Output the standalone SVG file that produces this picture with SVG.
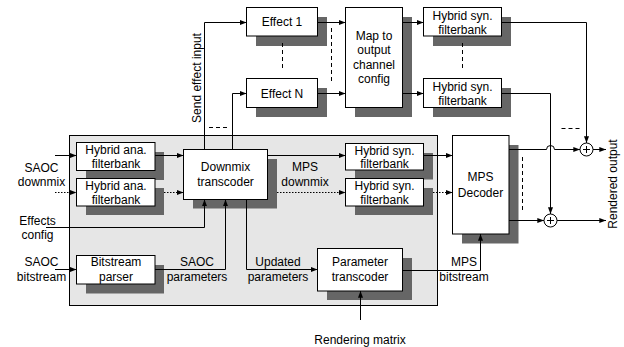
<svg xmlns="http://www.w3.org/2000/svg" width="624" height="347" viewBox="0 0 624 347">
  <defs>
    <marker id="arr" viewBox="0 0 8 6" refX="8" refY="3" markerWidth="7" markerHeight="5" markerUnits="userSpaceOnUse" orient="auto">
      <path d="M0,0 L8,3 L0,6 z" fill="#000"/>
    </marker>
  </defs>
  <style>
    text { font-family: "Liberation Sans", Arial, sans-serif; font-size: 12px; fill: #000; text-anchor: middle; }
    .box { fill: #fff; stroke: #000; stroke-width: 1; }
    .shadow { fill: #666; stroke: none; }
    .panel { fill: #e6e6e6; stroke: #000; stroke-width: 1; }
    .ln { fill: none; stroke: #000; stroke-width: 1; }
    .arrow { marker-end: url(#arr); }
    .dot { stroke-dasharray: 1.5 1.5; }
    .dash { fill: none; stroke: #000; stroke-width: 1; stroke-dasharray: 4 3; }
  </style>

  <!-- processing panel -->
  <rect class="panel" x="69.5" y="135.5" width="368" height="170"/>

  <!-- effects chain -->
  <g id="effect1">
    <rect class="shadow" x="256" y="17" width="71" height="29"/>
    <rect class="box" x="246.5" y="7.5" width="71" height="28.5"/>
    <text x="282" y="26">Effect 1</text>
  </g>
  <g id="effectN">
    <rect class="shadow" x="256" y="88" width="71" height="29"/>
    <rect class="box" x="246.5" y="78.5" width="71" height="29"/>
    <text x="282" y="97.5">Effect N</text>
  </g>
  <g id="map-output">
    <rect class="shadow" x="355" y="17" width="57" height="100"/>
    <rect class="box" x="345.5" y="7.5" width="57" height="100"/>
    <text x="374" y="39.5">Map to</text>
    <text x="374" y="54">output</text>
    <text x="374" y="68.5">channel</text>
    <text x="374" y="83">config</text>
  </g>
  <g id="hybrid-syn-fx1">
    <rect class="shadow" x="433" y="17" width="78" height="29"/>
    <rect class="box" x="423.5" y="7.5" width="78" height="28.5"/>
    <text x="462.5" y="19.5">Hybrid syn.</text>
    <text x="462.5" y="33.5">filterbank</text>
  </g>
  <g id="hybrid-syn-fxN">
    <rect class="shadow" x="433" y="88" width="78" height="29"/>
    <rect class="box" x="423.5" y="78.5" width="78" height="29"/>
    <text x="462.5" y="90.5">Hybrid syn.</text>
    <text x="462.5" y="104.5">filterbank</text>
  </g>

  <!-- SAOC transcoder blocks -->
  <g id="hybrid-ana-1">
    <rect class="shadow" x="86" y="152" width="78" height="28"/>
    <rect class="box" x="76.5" y="142.5" width="78.5" height="28"/>
    <text x="116" y="154">Hybrid ana.</text>
    <text x="116" y="168">filterbank</text>
  </g>
  <g id="hybrid-ana-2">
    <rect class="shadow" x="86" y="188" width="78" height="27"/>
    <rect class="box" x="76.5" y="178.5" width="78.5" height="27.5"/>
    <text x="116" y="190">Hybrid ana.</text>
    <text x="116" y="204">filterbank</text>
  </g>
  <g id="bitstream-parser">
    <rect class="shadow" x="86" y="265" width="78" height="28.5"/>
    <rect class="box" x="76.5" y="255.5" width="78.5" height="28.5"/>
    <text x="116" y="266">Bitstream</text>
    <text x="116" y="281">parser</text>
  </g>
  <g id="downmix-transcoder">
    <rect class="shadow" x="193" y="159" width="84" height="49.5"/>
    <rect class="box" x="183.5" y="149.5" width="84" height="50"/>
    <text x="225.5" y="171">Downmix</text>
    <text x="225.5" y="186">transcoder</text>
  </g>
  <g id="hybrid-syn-1">
    <rect class="shadow" x="355" y="153" width="78" height="26.5"/>
    <rect class="box" x="345.5" y="143.5" width="78" height="26.5"/>
    <text x="384.5" y="154.5">Hybrid syn.</text>
    <text x="384.5" y="168">filterbank</text>
  </g>
  <g id="hybrid-syn-2">
    <rect class="shadow" x="355" y="188" width="78" height="27"/>
    <rect class="box" x="345.5" y="178.5" width="78" height="27.5"/>
    <text x="384.5" y="190">Hybrid syn.</text>
    <text x="384.5" y="204">filterbank</text>
  </g>
  <g id="parameter-transcoder">
    <rect class="shadow" x="327" y="258" width="85" height="42"/>
    <rect class="box" x="317.5" y="248.5" width="85" height="42.5"/>
    <text x="360" y="266">Parameter</text>
    <text x="360" y="281">transcoder</text>
  </g>
  <g id="mps-decoder">
    <rect class="shadow" x="462" y="145" width="56.5" height="98.5"/>
    <rect class="box" x="452.5" y="135.5" width="56.5" height="98.5"/>
    <text x="480.5" y="181">MPS</text>
    <text x="480.5" y="196.5">Decoder</text>
  </g>

  <!-- summing points -->
  <g id="sum-top">
    <circle class="box" cx="586.5" cy="149.5" r="6.5"/>
    <path class="ln" d="M583,149.5 H590 M586.5,146 V153"/>
  </g>
  <g id="sum-bottom">
    <circle class="box" cx="550.5" cy="220.5" r="6.5"/>
    <path class="ln" d="M547,220.5 H554 M550.5,217 V224"/>
  </g>

  <!-- connectors -->
  <g id="connectors">
    <path class="ln arrow" d="M55,155.5 H76.5"/>
    <path class="ln arrow dot" d="M55,192.5 H76.5"/>
    <path class="ln arrow" d="M155,155.5 H183.5"/>
    <path class="ln arrow dot" d="M164,192.5 H183.5"/>
    <path class="ln arrow" d="M46,227.5 H204.5 V199.5"/>
    <path class="ln arrow" d="M55,269.5 H76.5"/>
    <path class="ln arrow" d="M155,269.5 H225.5 V199.5"/>
    <path class="ln arrow" d="M246.5,199.5 V269.5 H317.5"/>
    <path class="ln arrow" d="M204.5,149.5 V22.5 H246.5"/>
    <path class="ln arrow" d="M232.5,149.5 V93.5 H246.5"/>
    <path class="ln arrow" d="M317.5,22.5 H345.5"/>
    <path class="ln arrow" d="M317.5,93.5 H345.5"/>
    <path class="ln arrow" d="M402.5,22.5 H423.5"/>
    <path class="ln arrow" d="M402.5,93.5 H423.5"/>
    <path class="ln arrow" d="M501.5,22.5 H586.5 V143"/>
    <path class="ln arrow" d="M501.5,93.5 H550.5 V214"/>
    <path class="ln arrow" d="M267.5,155.5 H345.5"/>
    <path class="ln arrow dot" d="M277,192.5 H345.5"/>
    <path class="ln arrow" d="M423.5,155.5 H452.5"/>
    <path class="ln arrow dot" d="M433,192.5 H452.5"/>
    <path class="ln arrow" d="M402.5,270.5 H480.5 V234"/>
    <path class="ln arrow" d="M360.5,320 V291"/>
    <path class="ln arrow" d="M509,149.5 H546.5 A4,4 0 0 1 554.5,149.5 H580"/>
    <path class="ln arrow" d="M593,149.5 H606"/>
    <path class="ln arrow" d="M509,220.5 H544"/>
    <path class="ln arrow" d="M557,220.5 H606"/>
    <!-- "more channels" ellipsis marks -->
    <path class="dash" d="M209,127.5 H229"/>
    <path class="dash" d="M282.5,43 V68"/>
    <path class="dash" d="M331.5,28 V83"/>
    <path class="dash" d="M462.5,43 V68"/>
    <path class="dash" d="M561.5,128.5 H581"/>
    <path class="dash" d="M522.5,157 V211"/>
  </g>

  <!-- signal labels -->
  <text x="41.5" y="171.5">SAOC</text>
  <text x="41.5" y="186">downmix</text>
  <text x="37.5" y="224.5">Effects</text>
  <text x="37.5" y="238.5">config</text>
  <text x="41.5" y="266">SAOC</text>
  <text x="41.5" y="281">bitstream</text>
  <text x="197" y="266">SAOC</text>
  <text x="197" y="281">parameters</text>
  <text x="278" y="266">Updated</text>
  <text x="278" y="281">parameters</text>
  <text x="305" y="171">MPS</text>
  <text x="305" y="186">downmix</text>
  <text x="464" y="266">MPS</text>
  <text x="464" y="281">bitstream</text>
  <text x="360" y="343.5">Rendering matrix</text>
  <text x="196.5" y="78" dy="4.2" transform="rotate(-90 196.5 78)">Send effect input</text>
  <text x="613" y="184" dy="4.2" transform="rotate(-90 613 184)">Rendered output</text>
</svg>
